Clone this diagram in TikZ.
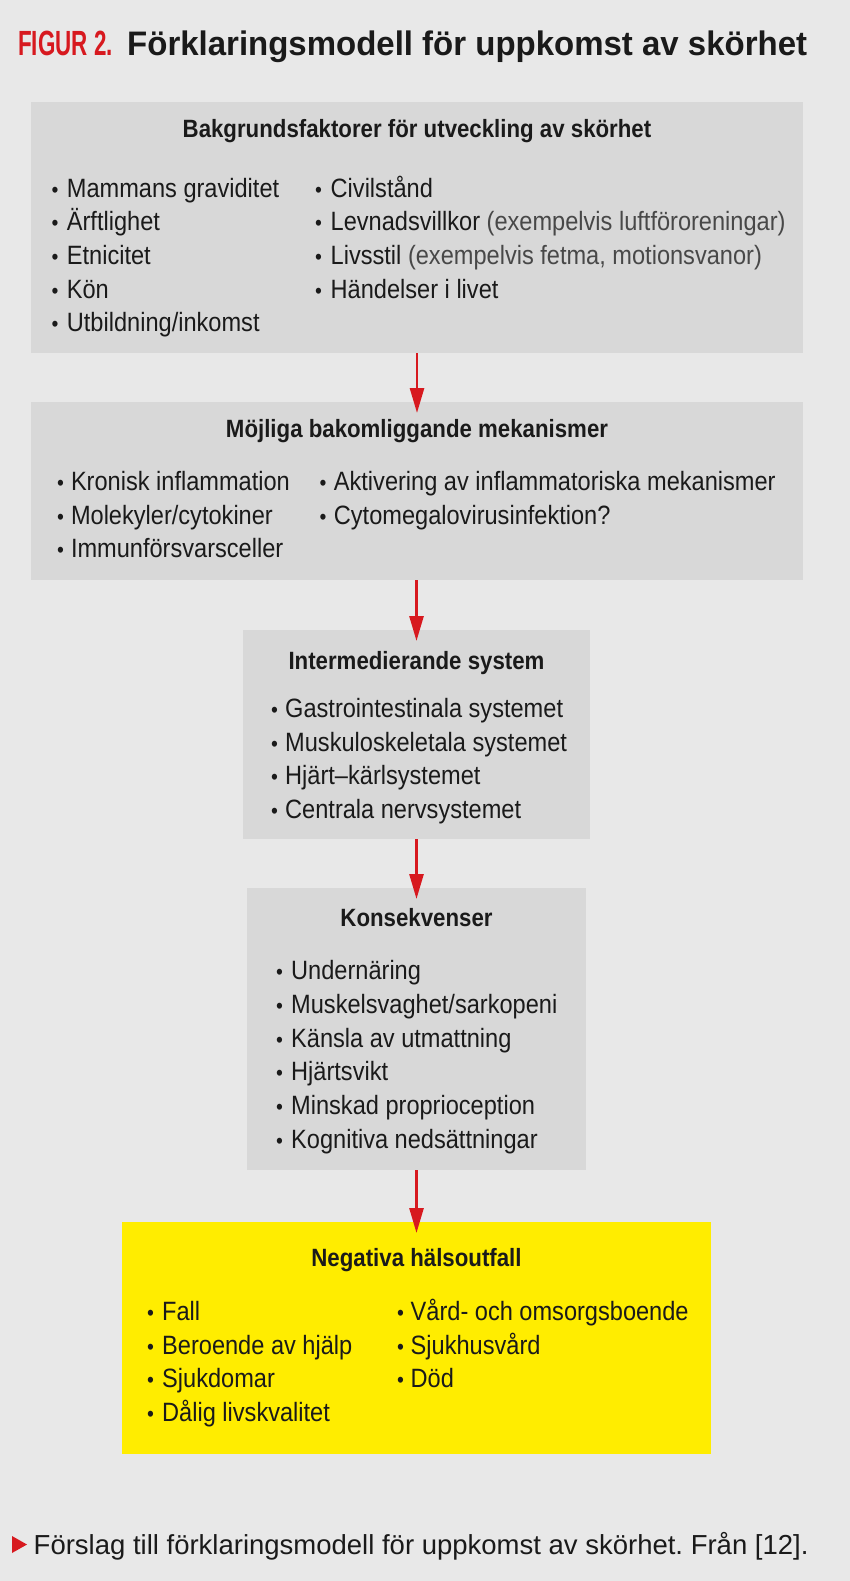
\documentclass[tikz,border=0pt]{standalone}
\usepackage{fontspec}
\setmainfont{Liberation Sans}[FakeStretch=0.89]
\newfontfamily\titlefont{Liberation Sans}[FakeStretch=0.97]
\newfontfamily\figfont{Liberation Sans}[FakeStretch=0.64]
\newfontfamily\capfont{Liberation Sans}
\usetikzlibrary{arrows.meta}
\frenchspacing
\definecolor{bg}{HTML}{E8E8E8}
\definecolor{boxgray}{HTML}{D8D8D8}
\definecolor{figred}{HTML}{D7191F}
\definecolor{ylw}{HTML}{FFED00}
\definecolor{ink}{HTML}{1A1A1A}
\tikzset{
  gbox/.style={fill=boxgray, draw=none, inner sep=0pt, outer sep=0pt},
  ybox/.style={fill=ylw, draw=none, inner sep=0pt, outer sep=0pt},
  head/.style={anchor=base, inner sep=0pt, text=ink, font=\fontsize{25}{30}\selectfont\bfseries},
  itm/.style={anchor=base west, inner sep=0pt, text=ink, font=\fontsize{26.5}{32}\selectfont},
  bul/.style={anchor=base, inner sep=0pt, text=ink, font=\fontsize{22}{26}\selectfont},
  arr/.style={draw=figred, line width=2.7pt, -{Triangle[width=14pt,length=25pt]}}
}
\newcommand{\blist}[5]{%
  \foreach \t [count=\i] in {#5} {
    \node[bul] (#1b\i) at (#2, {#4+(\i-1)*33.7}) {•};
    \node[itm] (#1t\i) at (#3, {#4+(\i-1)*33.7}) {\t};
  }%
}
\newcommand{\paren}[1]{{\color{ink!80}#1}}
\begin{document}
\begin{tikzpicture}[x=1pt,y=-1pt]
\fill[bg] (0,0) rectangle (850,1581);
\useasboundingbox (0,0) rectangle (850,1581);

% title
\node[anchor=base west, inner sep=0pt, text=figred, font=\figfont\fontsize{35}{40}\selectfont\bfseries] (fig) at (18,56) {FIGUR 2.};
\node[anchor=base west, inner sep=0pt, text=ink, font=\titlefont\fontsize{34}{40}\selectfont\bfseries] (title) at (127,56) {Förklaringsmodell för uppkomst av skörhet};

% boxes
\node[gbox, minimum width=772pt, minimum height=251pt] (b1) at (417,227.5) {};
\node[gbox, minimum width=772pt, minimum height=178pt] (b2) at (417,491) {};
\node[gbox, minimum width=347pt, minimum height=209pt] (b3) at (416.5,734.5) {};
\node[gbox, minimum width=339pt, minimum height=282pt] (b4) at (416.5,1029) {};
\node[ybox, minimum width=589pt, minimum height=232pt] (b5) at (416.5,1338) {};

% arrows
\draw[arr] (b1.south) -- ([yshift=-11pt]b2.north);
\draw[arr] (b3.north |- b2.south) -- ([yshift=-11pt]b3.north);
\draw[arr] (b3.south) -- ([yshift=-11pt]b4.north);
\draw[arr] (b4.south) -- ([yshift=-11pt]b5.north);

% box 1
\node[head] (h1) at (417,138) {Bakgrundsfaktorer för utveckling av skörhet};
\blist{a}{55}{66.7}{197}{Mammans graviditet, Ärftlighet, Etnicitet, Kön, Utbildning/inkomst}
\blist{c}{318.5}{330.5}{197}{Civilstånd, {Levnadsvillkor \paren{(exempelvis luftföroreningar)}}, {Livsstil \paren{(exempelvis fetma, motionsvanor)}}, Händelser i livet}

% box 2
\node[head] (h2) at (417,437.6) {Möjliga bakomliggande mekanismer};
\blist{d}{60.5}{70.8}{490.5}{Kronisk inflammation, Molekyler/cytokiner, Immunförsvarsceller}
\blist{e}{323}{333.7}{490.5}{Aktivering av inflammatoriska mekanismer, Cytomegalovirusinfektion?}

% box 3
\node[head] (h3) at (416.5,669.5) {Intermedierande system};
\blist{f}{274.5}{285}{717.4}{Gastrointestinala systemet, Muskuloskeletala systemet, Hjärt–kärlsystemet, Centrala nervsystemet}

% box 4
\node[head] (h4) at (416.5,926.7) {Konsekvenser};
\blist{g}{279.5}{291}{979.6}{Undernäring, Muskelsvaghet/sarkopeni, Känsla av utmattning, Hjärtsvikt, Minskad proprioception, Kognitiva nedsättningar}

% box 5
\node[head] (h5) at (416.5,1266.4) {Negativa hälsoutfall};
\blist{k}{150.5}{162}{1320.4}{Fall, Beroende av hjälp, Sjukdomar, Dålig livskvalitet}
\blist{m}{400.5}{410.5}{1320.4}{Vård- och omsorgsboende, Sjukhusvård, Död}

% caption
\fill[figred] (12,1536) -- (27,1544.5) -- (12,1553) -- cycle;
\node[anchor=base west, inner sep=0pt, text=ink, font=\capfont\fontsize{27.5}{32}\selectfont] (cap) at (33.5,1554) {Förslag till förklaringsmodell för uppkomst av skörhet. Från [12].};
\end{tikzpicture}
\end{document}
